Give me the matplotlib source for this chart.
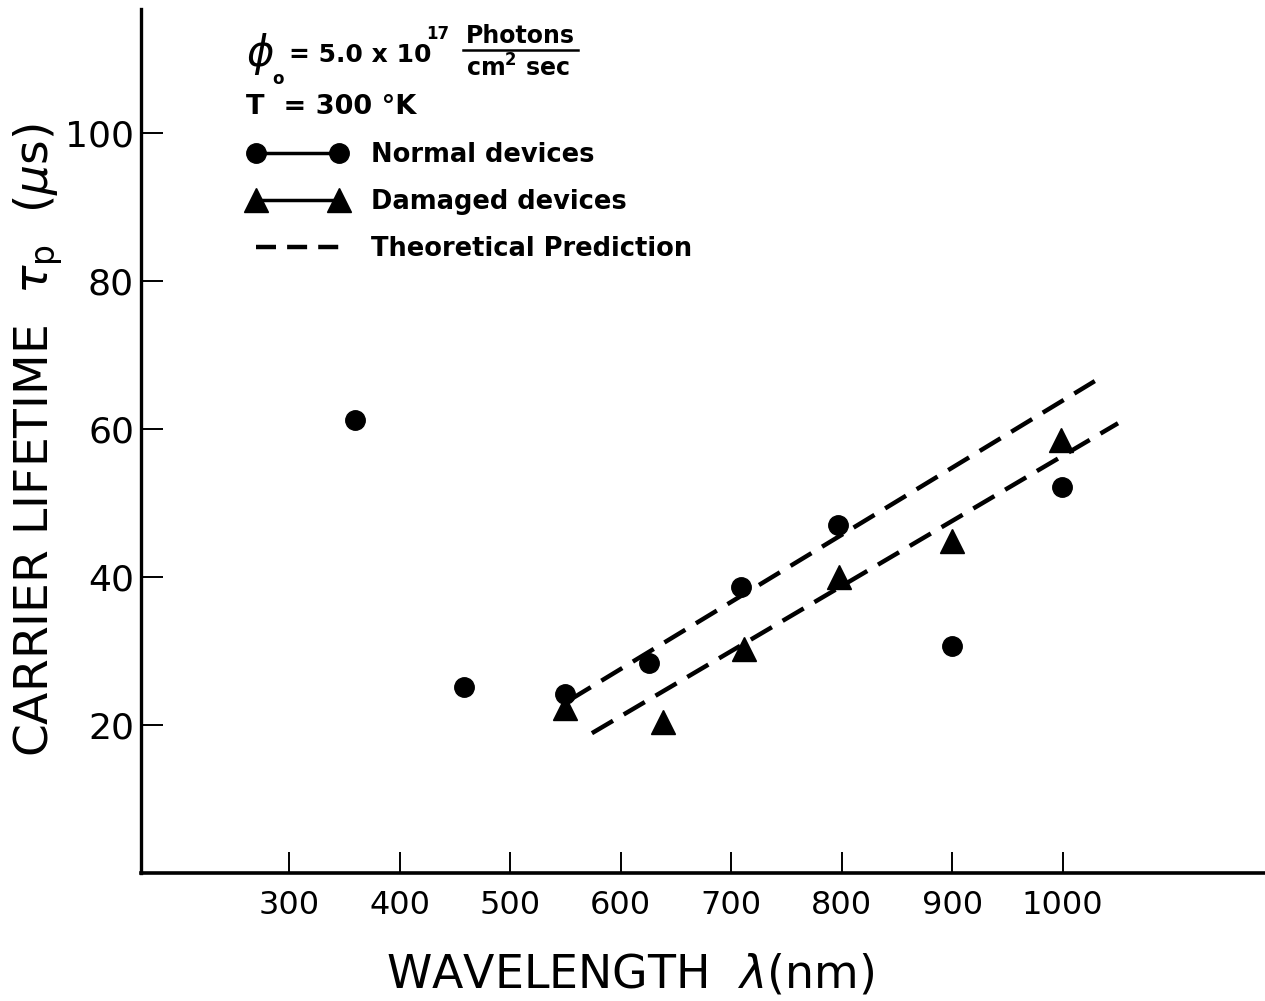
import matplotlib
matplotlib.use("Agg")
import matplotlib.pyplot as plt
from matplotlib.lines import Line2D

normal_wl = [360, 458, 550, 626, 709, 797, 900, 999]
normal_tau = [61.2, 25.1, 24.2, 28.4, 38.6, 47.0, 30.7, 52.2]

damaged_wl = [550, 638, 712, 798, 900, 998]
damaged_tau = [22.3, 20.4, 30.3, 40.0, 44.9, 58.5]

# theoretical prediction lines (end points)
theory_upper_wl = [554, 1029]
theory_upper_tau = [23.4, 66.5]
theory_lower_wl = [574, 1050]
theory_lower_tau = [18.9, 60.8]

xticks = [300, 400, 500, 600, 700, 800, 900, 1000]
yticks = [20, 40, 60, 80, 100]

plt.rcParams["mathtext.fontset"] = "dejavusans"

W, H = 1265, 1001
fig = plt.figure(figsize=(W / 100, H / 100), dpi=100)
ax = fig.add_axes([141 / W, 1 - 873 / H, 1 - 141 / W, 864 / H])


def fx(px):
    return px / W


def fy(py):
    return 1 - py / H


ax.plot(normal_wl, normal_tau, "o", color="black", markersize=14, linestyle="none")
ax.plot(damaged_wl, damaged_tau, "^", color="black", markersize=17, linestyle="none")
dash = (5.5, 2.8)
ax.plot(theory_upper_wl, theory_upper_tau, color="black", lw=3.2, dashes=dash)
ax.plot(theory_lower_wl, theory_lower_tau, color="black", lw=3.2, dashes=dash)

ax.set_xlim(166, 1183)
ax.set_ylim(0, 116.8)
ax.set_xticks(xticks)
ax.set_yticks(yticks)
ax.set_xticklabels([str(t) for t in xticks])
ax.set_yticklabels([str(t) for t in yticks])
ax.tick_params(axis="x", direction="in", length=15, width=1.4, pad=12, labelsize=23)
ax.tick_params(axis="y", direction="in", length=16, width=1.4, pad=5, labelsize=26)
for s in ["top", "right"]:
    ax.spines[s].set_visible(False)
ax.spines["left"].set_linewidth(2.4)
ax.spines["bottom"].set_linewidth(2.6)

fig.text(fx(38), fy(440), r"CARRIER LIFETIME  $\tau_\mathrm{p}$  ($\mu$s)",
         rotation=90, ha="center", va="center", fontsize=34)
fig.text(fx(630), fy(975), r"WAVELENGTH  $\lambda$(nm)",
         ha="center", va="center", fontsize=33)

# header annotation: phi_o = 5.0 x 10^17 Photons / (cm^2 sec)
fig.text(fx(246), fy(54), r"$\phi$", ha="left", va="center", fontsize=30)
fig.text(fx(272), fy(79), "o", ha="left", va="center", fontsize=12, fontweight="bold")
fig.text(fx(289), fy(55), "= 5.0 x 10", ha="left", va="center",
         fontsize=18, fontweight="bold")
fig.text(fx(426), fy(34), "17", ha="left", va="center", fontsize=12, fontweight="bold")
fig.text(fx(520), fy(36), "Photons", ha="center", va="center",
         fontsize=17, fontweight="bold")
fig.text(fx(518), fy(68), "cm$^\\mathbf{2}$ sec", ha="center", va="center",
         fontsize=17, fontweight="bold")
fig.add_artist(Line2D([fx(463), fx(578)], [fy(50), fy(50)], color="black", lw=1.8))
fig.text(fx(246), fy(107), "T  = 300 °K", ha="left", va="center",
         fontsize=19.5, fontweight="bold")

handles = [
    Line2D([], [], color="black", lw=2.5, marker="o", markersize=14),
    Line2D([], [], color="black", lw=2.5, marker="^", markersize=17),
    Line2D([], [], color="black", lw=3.2, dashes=(4.5, 2.5)),
]
labels = ["Normal devices", "Damaged devices", "Theoretical Prediction"]
leg = ax.legend(handles, labels, loc="upper left",
                bbox_to_anchor=(fx(248), fy(142)),
                bbox_transform=fig.transFigure, frameon=False, numpoints=2,
                handlelength=3.85, handletextpad=0.95, labelspacing=0.82,
                borderpad=0, borderaxespad=0,
                prop={"size": 18.5, "weight": "bold"})

fig.savefig("out.png", dpi=100)
